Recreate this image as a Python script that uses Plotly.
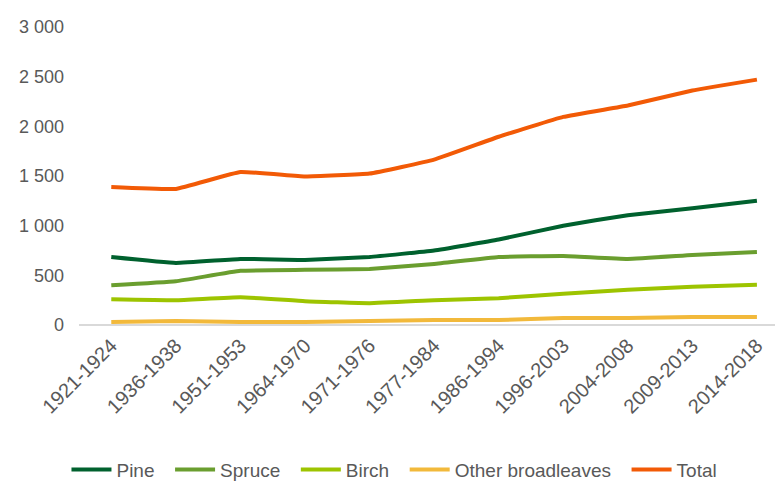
import plotly.graph_objects as go

periods = ["1921-1924", "1936-1938", "1951-1953", "1964-1970", "1971-1976", "1977-1984",
           "1986-1994", "1996-2003", "2004-2008", "2009-2013", "2014-2018"]

pine = [685, 625, 665, 655, 685, 750, 860, 1000, 1105, 1175, 1250]
spruce = [400, 440, 545, 555, 565, 615, 685, 695, 665, 705, 735]
birch = [260, 250, 280, 240, 220, 250, 270, 315, 355, 385, 405]
other_broadleaves = [30, 40, 30, 30, 40, 50, 50, 70, 70, 80, 80]
total = [1390, 1370, 1540, 1495, 1525, 1665, 1895, 2095, 2210, 2360, 2470]

series = [
    ("Pine", pine, "#00612E"),
    ("Spruce", spruce, "#6A9E2F"),
    ("Birch", birch, "#9DC400"),
    ("Other broadleaves", other_broadleaves, "#F2B93B"),
    ("Total", total, "#F25A06"),
]

PAD = "\u00a0\u00a0"  # extra room between legend entries

fig = go.Figure()
for name, vals, color in series:
    fig.add_trace(go.Scatter(
        x=periods, y=vals, name=name + PAD, mode="lines",
        line=dict(color=color, width=4, shape="spline", smoothing=0.3),
        hovertemplate="%{x}: %{y}<extra>" + name + "</extra>",
    ))

font_family = "Liberation Sans, Arial, sans-serif"

fig.update_layout(
    width=775, height=482,
    margin=dict(l=79, r=0, t=27, b=157, autoexpand=False),
    paper_bgcolor="white", plot_bgcolor="white",
    font=dict(family=font_family, size=18, color="#595959"),
    showlegend=True,
    legend=dict(orientation="h", x=-0.018, xanchor="left", y=-0.485, yanchor="middle",
                font=dict(size=19, color="#595959"), itemwidth=40,
                traceorder="normal"),
    xaxis=dict(
        type="category", range=[-0.5, 10.28], tickangle=-45, automargin=False,
        showgrid=False, showline=False, ticks="", zeroline=False,
        tickfont=dict(size=20, color="#595959"), ticklabelstandoff=4,
    ),
    yaxis=dict(
        range=[0, 3000], tickvals=[0, 500, 1000, 1500, 2000, 2500, 3000],
        ticktext=["0", "500", "1 000", "1 500", "2 000", "2 500", "3 000"],
        showgrid=False, zeroline=True, zerolinecolor="#D9D9D9", zerolinewidth=1.5,
        showline=False, ticks="", ticklabelstandoff=14, automargin=False,
        tickfont=dict(size=18, color="#595959"),
    ),
)

fig.write_html("out.html")
